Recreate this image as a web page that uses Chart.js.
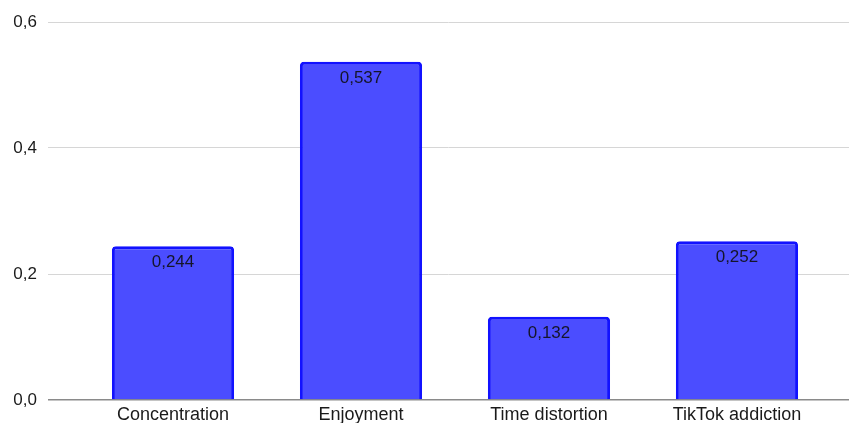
<!DOCTYPE html>
<html>
<head>
<meta charset="utf-8">
<script src="https://cdn.jsdelivr.net/npm/chart.js@4/dist/chart.umd.min.js"></script>
<style>
html,body{margin:0;padding:0;background:#fff;}
#wrap{width:849px;height:423px;position:relative;}
</style>
</head>
<body>
<div id="wrap"><canvas id="c" width="849" height="423"></canvas></div>
<script>
const categories = ["Concentration", "Enjoyment", "Time distortion", "TikTok addiction"];
const values = [0.244, 0.537, 0.132, 0.252];
const yTicks = [0, 0.2, 0.4, 0.6];

const valueLabels = {
  id: 'valueLabels',
  afterDatasetsDraw(chart) {
    const ctx = chart.ctx;
    const meta = chart.getDatasetMeta(0);
    ctx.save();
    ctx.font = '17px "Liberation Sans", Arial, sans-serif';
    ctx.fillStyle = '#15152a';
    ctx.textAlign = 'center';
    ctx.textBaseline = 'middle';
    meta.data.forEach((bar, i) => {
      ctx.fillText(String(values[i]).replace('.', ','), bar.x, bar.y + 16.5);
    });
    ctx.restore();
  }
};

new Chart(document.getElementById('c'), {
  type: 'bar',
  data: {
    datasets: [{
      data: values.map((v, i) => ({x: i, y: v})),
      backgroundColor: '#4b4dff',
      borderColor: '#1212ff',
      borderWidth: 3,
      borderRadius: {topLeft: 4, topRight: 4, bottomLeft: 0, bottomRight: 0},
      borderSkipped: 'bottom',
      barPercentage: 1,
      categoryPercentage: 0.65
    }]
  },
  options: {
    responsive: false,
    animation: false,
    devicePixelRatio: 1,
    layout: {padding: {top: 22, right: 0, bottom: 0, left: 0}},
    plugins: {legend: {display: false}, tooltip: {enabled: false}},
    scales: {
      x: {
        type: 'linear',
        offset: false,
        min: -0.665,
        max: 3.596,
        grid: {display: false, drawTicks: false, tickLength: 0, offset: false},
        border: {display: false},
        afterBuildTicks: s => { s.ticks = categories.map((c, i) => ({value: i})); },
        afterFit: s => { s.height = 23; },
        ticks: {
          autoSkip: false,
          maxRotation: 0,
          padding: 4,
          color: '#1a1a1a',
          font: {family: '"Liberation Sans", Arial, sans-serif', size: 18},
          callback: v => categories[v]
        }
      },
      y: {
        min: 0,
        max: 0.6,
        afterBuildTicks: s => { s.ticks = yTicks.map(v => ({value: v})); },
        afterFit: s => { s.width = 48; },
        border: {display: false},
        grid: {
          drawTicks: false,
          color: c => c.tick && c.tick.value === 0 ? '#8a8a8a' : '#d6d6d6',
          lineWidth: c => c.tick && c.tick.value === 0 ? 1.5 : 1
        },
        ticks: {
          padding: 11,
          color: '#1a1a1a',
          font: {family: '"Liberation Sans", Arial, sans-serif', size: 17},
          callback: v => v.toFixed(1).replace('.', ',')
        }
      }
    }
  },
  plugins: [valueLabels]
});
</script>
</body>
</html>
